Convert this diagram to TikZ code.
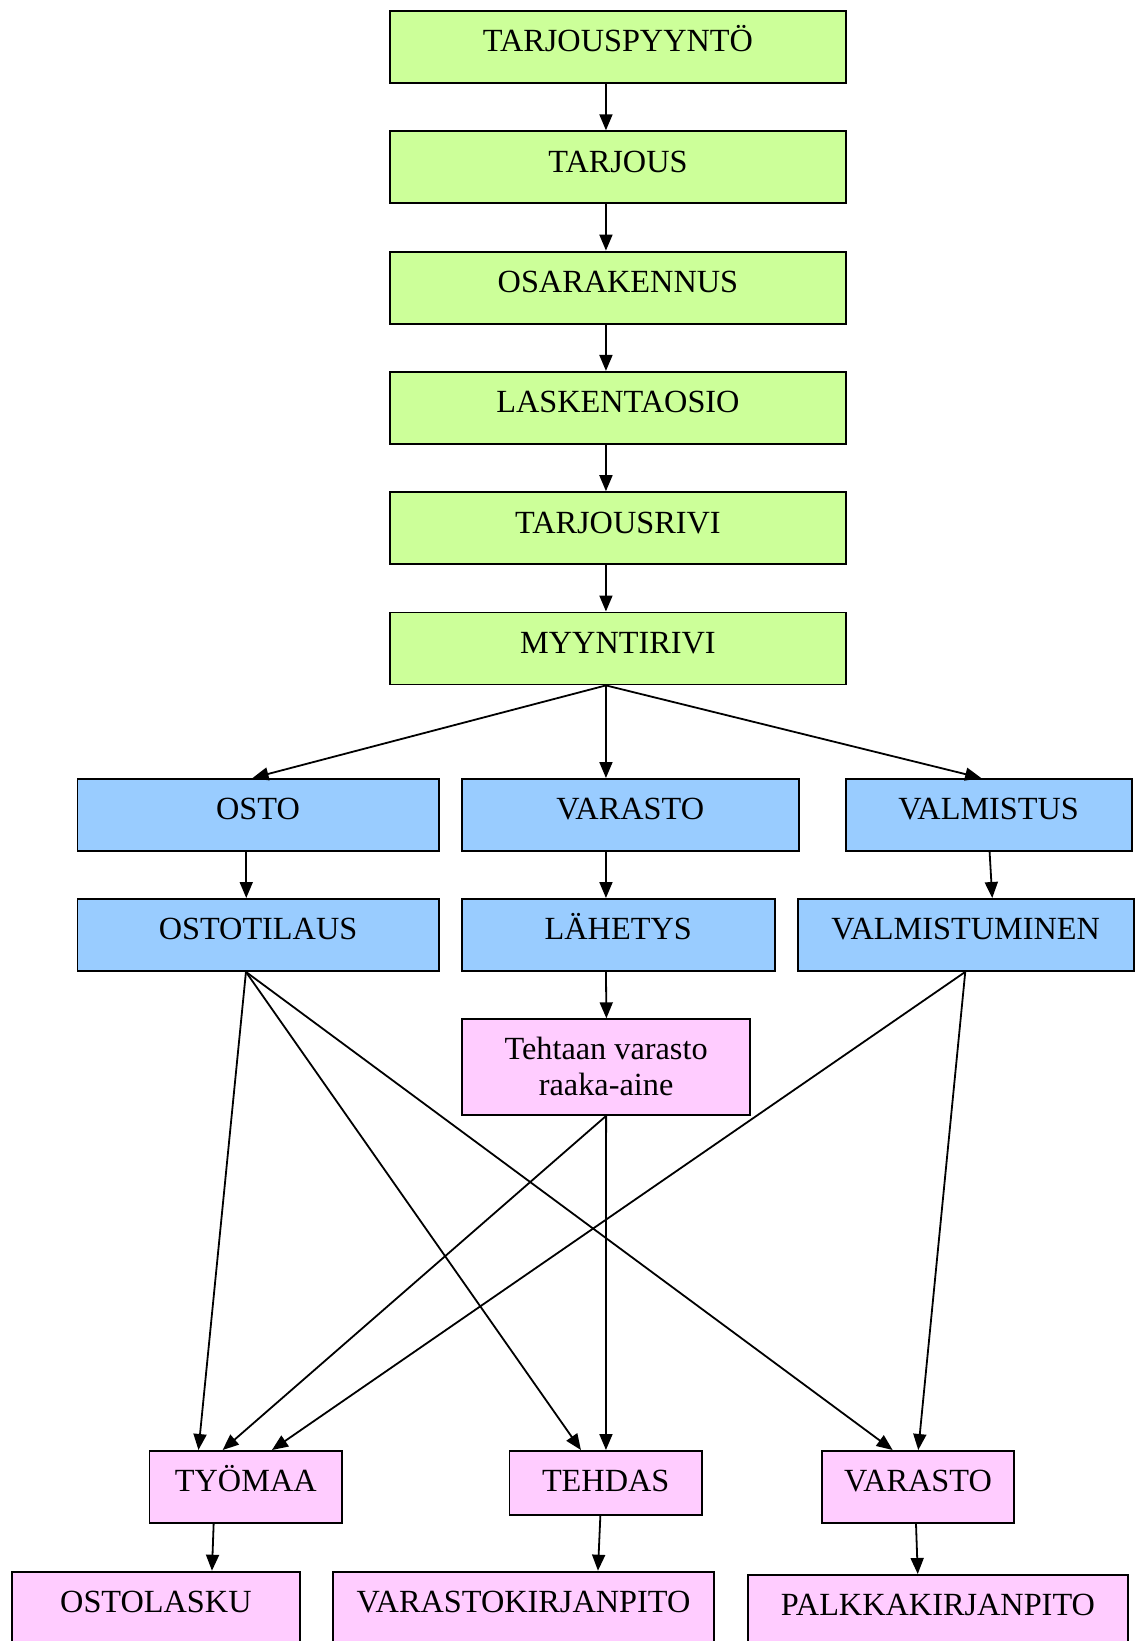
\documentclass[tikz,border=0pt]{standalone}
\usepackage{fontspec}
\setmainfont{Liberation Serif}
\usetikzlibrary{arrows.meta}
\definecolor{gfill}{HTML}{CCFF99}
\definecolor{bfill}{HTML}{99CCFF}
\definecolor{pfill}{HTML}{FFCCFF}
\begin{document}
\begin{tikzpicture}[x=1pt,y=-1pt,
  box/.style={draw=black,line width=1.9pt,inner sep=0pt,anchor=north west,
    text height=41pt,text depth=31pt,font=\fontsize{32.3pt}{36.7pt}\selectfont},
  gbox/.style={box,fill=gfill,minimum width=456pt},
  bbox/.style={box,fill=bfill},
  pbox/.style={box,fill=pfill},
  arr/.style={line width=1.8pt,-{Triangle[length=16pt,width=13pt]}}]
\useasboundingbox (0,0) rectangle (1138,1641);

% green chain
\node[gbox] (g1) at (389,10)    {TARJOUSPYYNTÖ};
\node[gbox] (g2) at (389,130.3) {TARJOUS};
\node[gbox] (g3) at (389,250.6) {OSARAKENNUS};
\node[gbox] (g4) at (389,370.9) {LASKENTAOSIO};
\node[gbox] (g5) at (389,491.2) {TARJOUSRIVI};
\node[gbox] (g6) at (389,611.5) {MYYNTIRIVI};

% blue rows
\node[bbox,minimum width=361.2pt] (b1) at (76.5,778)  {OSTO};
\node[bbox,minimum width=336.9pt] (b2) at (460.8,778) {VARASTO};
\node[bbox,minimum width=285.9pt] (b3) at (844.7,778) {VALMISTUS};
\node[bbox,minimum width=361.2pt] (c1) at (76.5,898)  {OSTOTILAUS};
\node[bbox,minimum width=313pt]   (c2) at (460.8,898) {LÄHETYS};
\node[bbox,minimum width=336.4pt] (c3) at (796.6,898) {VALMISTUMINEN};

% pink
\node[pbox,minimum width=288.3pt,text height=40pt,text depth=55.7pt] (t) at (461,1018.3)
  {\begin{tabular}[t]{@{}c@{}}Tehtaan varasto\\raaka-aine\end{tabular}};
\node[pbox,minimum width=192.7pt] (p1) at (148.5,1450) {TYÖMAA};
\node[pbox,minimum width=192.5pt,text depth=23pt] (p2) at (508.5,1450) {TEHDAS};
\node[pbox,minimum width=192.7pt] (p3) at (820.7,1450) {VARASTO};
\node[pbox,minimum width=288.5pt,text depth=39pt] (q1) at (10.7,1570.7) {OSTOLASKU};
\node[pbox,minimum width=381pt,text depth=39pt]   (q2) at (332,1570.7)  {VARASTOKIRJANPITO};
\node[pbox,minimum width=380pt,text depth=39pt]   (q3) at (747,1574)    {PALKKAKIRJANPITO};

% green arrows
\draw[arr] ([xshift=-12pt]g1.south) -- ([xshift=-12pt]g2.north);
\draw[arr] ([xshift=-12pt]g2.south) -- ([xshift=-12pt]g3.north);
\draw[arr] ([xshift=-12pt]g3.south) -- ([xshift=-12pt]g4.north);
\draw[arr] ([xshift=-12pt]g4.south) -- ([xshift=-12pt]g5.north);
\draw[arr] ([xshift=-12pt]g5.south) -- ([xshift=-12pt]g6.north);

% to blue
\draw[arr] ([xshift=-12pt]g6.south) -- ([xshift=-5.5pt]b1.north);
\draw[arr] ([xshift=-12pt]g6.south) -- ([xshift=-24.25pt]b2.north);
\draw[arr] ([xshift=-12pt]g6.south) -- ([xshift=-7.45pt]b3.north);
\draw[arr] ([xshift=-11.8pt]b1.south) -- ([xshift=-11.8pt]c1.north);
\draw[arr] ([xshift=-24.25pt]b2.south) -- ([xshift=-12.3pt]c2.north);
\draw[arr] ([xshift=1pt]b3.south) -- ([xshift=26.5pt]c3.north);
\draw[arr] ([xshift=-12.3pt]c2.south) -- ([xshift=0.3pt]t.north);

% crossing lines
\draw[arr] ([xshift=-12.1pt]c1.south) -- ([xshift=-47.35pt]p1.north);
\draw[arr] ([xshift=-12.1pt]c1.south) -- ([xshift=-24.75pt]p2.north);
\draw[arr] ([xshift=-12.1pt]c1.south) -- ([xshift=-25.35pt]p3.north);
\draw[arr] (t.south) -- ([xshift=-23.15pt]p1.north);
\draw[arr] (t.south) -- ([xshift=0.25pt]p2.north);
\draw[arr] ([xshift=-0.5pt]c3.south) -- ([xshift=26.15pt]p1.north);
\draw[arr] ([xshift=-0.5pt]c3.south) -- ([xshift=0.25pt]p3.north);

% to bottom row
\draw[arr] ([xshift=-32.15pt]p1.south) -- ([xshift=56.05pt]q1.north);
\draw[arr] ([xshift=-5.35pt]p2.south) -- ([xshift=74.5pt]q2.north);
\draw[arr] ([xshift=-2pt]p3.south) -- ([xshift=-20.2pt]q3.north);
\end{tikzpicture}
\end{document}
